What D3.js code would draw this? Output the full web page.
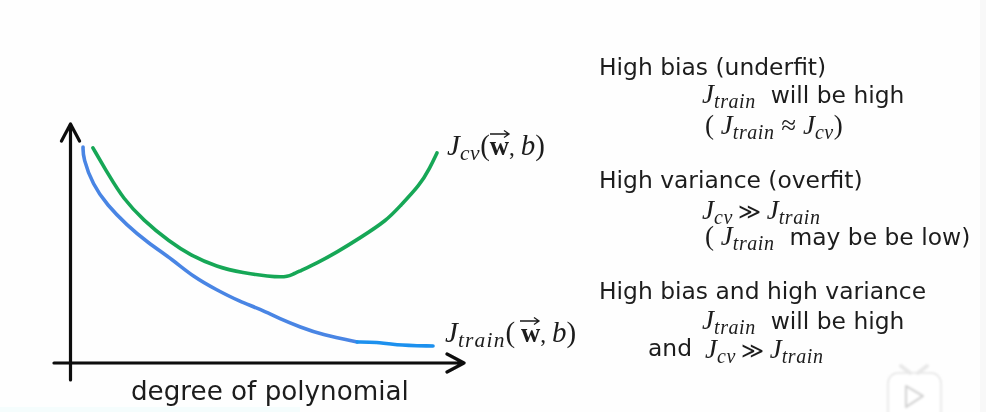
<!DOCTYPE html>
<html><head><meta charset="utf-8">
<script src="https://cdn.jsdelivr.net/npm/d3@7"></script>
<style>html,body{margin:0;padding:0;background:#fff}svg{display:block}</style>
</head><body><svg id="c" width="986" height="412"></svg>
<script>
// Series values (degree of polynomial 0-100, cost 0-100)
const cvDegree = [5.8,10.1,13.4,18.5,25.3,30.4,37.2,43.8,50.6,53.5,54.9,56.3,58.2,62.5,67.6,73.4,80.3,83.5,88.6,91.1,92.9];
const cvCost = [90,77.8,69,59.8,50.6,45.2,40.2,37.7,36.2,36.0,36.2,37.0,38.5,41.8,46.4,52.3,59.8,65.6,74.5,81.6,87.9];
const trainDegree = [3.3,3.3,5.8,9.4,14.4,19.5,26.1,31.1,37.2,43,48.1,53.2,58.2,64,72.7];
const trainCost = [90.4,85.8,74.5,66.1,57.7,50.6,43.1,36.2,30.5,25.7,22.6,18.4,15.1,11.7,8.8];
const trainTailDegree = [72.7,77.7,81.8,91.9];
const trainTailCost = [8.8,8.8,7.5,7.1];
const xLabel = "degree of polynomial";
const notes = ["High bias (underfit)","High variance (overfit)","High bias and high variance"];

const svg = d3.select("#c");
const defs = svg.append("defs");
defs.append("filter").attr("id","soft").append("feGaussianBlur").attr("stdDeviation",0.45);
defs.append("filter").attr("id","softer").append("feGaussianBlur").attr("stdDeviation",1);
svg.append("rect").attr("width",986).attr("height",412).attr("fill","#fefefe");
svg.append("rect").attr("x",980).attr("width",6).attr("height",412).attr("fill","#f8f8f8");
svg.append("rect").attr("y",407).attr("width",300).attr("height",5).attr("fill","#f5fdfd");
const root = svg.append("g").attr("filter","url(#soft)");

const x = d3.scaleLinear().domain([0,100]).range([70,465]);
const y = d3.scaleLinear().domain([0,100]).range([363,124]);
const line = d3.line().x(d=>x(d[0])).y(d=>y(d[1])).curve(d3.curveBasis);
const draw = (xs,ys,color)=>root.append("path").attr("d",line(d3.zip(xs,ys)))
  .attr("fill","none").attr("stroke",color).attr("stroke-width",3.6).attr("stroke-linecap","round").attr("stroke-linejoin","round");

// axes
const axisColor="#0c0c0c";
const axisStroke=(p)=>root.append("path").attr("d",p).attr("fill","none").attr("stroke",axisColor)
  .attr("stroke-width",3.2).attr("stroke-linecap","round").attr("stroke-linejoin","round");
axisStroke(`M${x(0)+.5},380V${y(100)+1}M${x(0)-8.5},141L${x(0)+.5},${y(100)}L${x(0)+9.5},141`);
axisStroke(`M54,${y(0)}H${x(100)-1}M${x(100)-18},354L${x(100)-1},${y(0)}L${x(100)-18},372`);

draw(trainDegree,trainCost,"#4a85e4");
draw(trainTailDegree,trainTailCost,"#1a90ee");
draw(cvDegree,cvCost,"#17a757");

const sans="'DejaVu Sans',sans-serif", serif="'Liberation Serif',serif";
const ink="#1c1c1c";
const bodySize=23.4;
function plain(px,py,t,size=bodySize){
  return root.append("text").attr("x",px).attr("y",py).attr("font-family",sans).attr("font-size",size).attr("fill",ink).text(t);
}
function math(px,py,parts,big=27,spacing=.6){
  const t=root.append("text").attr("x",px).attr("y",py).attr("fill",ink).attr("xml:space","preserve");
  let level=0;
  parts.forEach(([s,k])=>{
    const ts=t.append("tspan").text(s);
    const want=k==="sub"?5:0;
    ts.attr("dy",want-level); level=want;
    if(k==="J") ts.attr("font-family",serif).attr("font-style","italic").attr("font-size",big);
    if(k==="sub") ts.attr("font-family",serif).attr("font-style","italic").attr("font-size",big*0.74).attr("letter-spacing",spacing);
    if(k==="up") ts.attr("font-family",serif).attr("font-size",big);
    if(k==="op") ts.attr("font-family",serif).attr("font-size",big*.8);
    if(k==="w") ts.attr("font-family",serif).attr("font-weight","bold").attr("font-size",big*.92);
    if(k==="sans") ts.attr("font-family",sans).attr("font-size",bodySize);
  });
  return t;
}
function costLabel(px,py,sub,arrowX,gap,spacing){
  math(px,py,[["J","J"],[sub,"sub"],["(","up"],[gap,"op"],["w","w"],[", ","op"],["b","J"],[")","up"]],29,spacing);
  root.append("path").attr("d",`M${arrowX},${py-21}h19m-5,-3.5l5,3.5l-5,3.5`).attr("fill","none").attr("stroke",ink).attr("stroke-width",1.3);
}
costLabel(447,155,"cv",490,"",.6);
costLabel(445,342,"train",520," ",1.2);

plain(131,400,xLabel,26.2);

plain(599,75,notes[0]);
math(702,103,[["J","J"],["train","sub"],["  will be high","sans"]]);
math(705,134,[["( ","up"],["J","J"],["train","sub"],[" ≈ ","up"],["J","J"],["cv","sub"],[")","up"]]);
plain(599,188,notes[1]);
math(702,219,[["J","J"],["cv","sub"],[" ≫ ","op"],["J","J"],["train","sub"]]);
math(705,245,[["( ","up"],["J","J"],["train","sub"],["  may be be low)","sans"]]);
plain(599,299,notes[2]);
math(702,329,[["J","J"],["train","sub"],["  will be high","sans"]]);
plain(648,356,"and");
math(705,358,[["J","J"],["cv","sub"],[" ≫ ","op"],["J","J"],["train","sub"]]);

// video watermark
const wm=svg.append("g").attr("fill","none").attr("filter","url(#softer)");
wm.append("rect").attr("x",888).attr("y",373).attr("width",53).attr("height",50).attr("rx",10).attr("fill","#fff").attr("stroke","#e4e4e4").attr("stroke-width",1.5);
wm.append("path").attr("d","M901,366l9,7M927,366l-9,7").attr("stroke","#e8e8e8").attr("stroke-width",4).attr("stroke-linecap","round");
wm.append("path").attr("d","M906,386l17,10l-17,11z").attr("stroke","#d4d4d4").attr("stroke-width",2.2).attr("stroke-linejoin","round").attr("fill","#fff");
</script></body></html>
